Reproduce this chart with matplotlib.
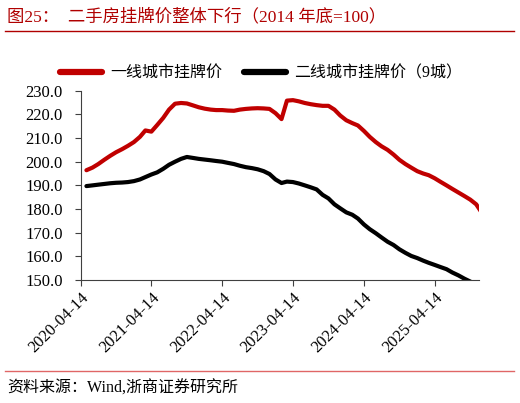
import matplotlib.pyplot as plt
import pandas as pd

plt.rcParams['font.family'] = ['Liberation Serif', 'Noto Sans CJK SC']

# monthly readings, 2020-04 .. 2025-11
dates = pd.date_range("2020-04-14", periods=68, freq="MS") + pd.Timedelta(days=13)

tier1 = [196.4, 197.5, 199.0, 200.8, 202.5, 204.0, 205.3, 206.7, 208.3, 210.5,
         213.2, 212.7, 215.5, 218.5, 222.0, 224.5, 224.8, 224.6, 223.8, 223.0,
         222.4, 222.0, 221.8, 221.8, 221.6, 221.5, 222.0, 222.3, 222.5, 222.6,
         222.5, 222.3, 220.5, 218.0, 225.8, 226.0, 225.5, 224.8, 224.3, 223.9,
         223.6, 223.6, 222.0, 219.5, 217.5, 216.3, 215.3, 213.0, 210.5, 208.3,
         206.5, 205.0, 203.0, 200.8, 199.0, 197.5, 196.0, 195.0, 194.3, 193.0,
         191.5, 190.0, 188.5, 187.0, 185.5, 184.0, 182.0, 178.3]

tier2 = [189.7, 190.0, 190.3, 190.6, 190.9, 191.1, 191.2, 191.4, 191.8, 192.5,
         193.5, 194.6, 195.5, 197.0, 198.7, 200.0, 201.2, 202.0, 201.6, 201.2,
         200.9, 200.6, 200.3, 200.0, 199.5, 199.0, 198.3, 197.7, 197.3, 196.8,
         196.0, 194.8, 192.5, 191.0, 191.6, 191.4, 190.8, 190.0, 189.2, 188.3,
         186.0, 184.5, 182.0, 180.3, 178.6, 177.6, 176.0, 173.5, 171.5, 169.8,
         168.0, 166.2, 164.8, 163.0, 161.5, 160.2, 159.3, 158.2, 157.3, 156.4,
         155.5, 154.6, 153.2, 152.0, 150.6, 149.4, 148.2, 147.0]

tick_labels = ["2020-04-14", "2021-04-14", "2022-04-14",
               "2023-04-14", "2024-04-14", "2025-04-14"]

fig = plt.figure(figsize=(5.2, 4.03), dpi=100)
ax = fig.add_axes([0.155, 0.305, 0.766, 0.47])

ax.plot(dates, tier1, color="#C00000", lw=3, label="一线城市挂牌价", solid_capstyle="round")
ax.plot(dates, tier2, color="black", lw=3, label="二线城市挂牌价（9城）", solid_capstyle="round")

ax.set_ylim(150, 230)
ax.set_yticks(range(150, 231, 10))
ax.set_yticklabels([f"{v:.1f}" for v in range(150, 231, 10)], fontsize=12)
ax.set_xlim(pd.Timestamp("2020-04-14"), pd.Timestamp("2025-11-28"))
ax.set_xticks([pd.Timestamp(t) for t in tick_labels])
ax.set_xticklabels(tick_labels, rotation=45, ha="right", rotation_mode="anchor", fontsize=12)

for s in ["top", "right"]:
    ax.spines[s].set_visible(False)
for s in ["left", "bottom"]:
    ax.spines[s].set_color("#404040")
ax.tick_params(axis="both", direction="out", length=4, color="#404040", pad=3)
ax.tick_params(axis="y", pad=9)

ax.legend(loc="lower left", bbox_to_anchor=(-0.075, 1.0), ncol=2, frameon=False,
          fontsize=11.5, handlelength=2.6, columnspacing=1.4, borderaxespad=0.2,
          handletextpad=0.5)
for line in ax.get_legend().get_lines():
    line.set_linewidth(4.5)

fig.text(0.013, 0.958, "图25：  二手房挂牌价整体下行（2014 年底=100）",
         color="#B00000", fontsize=12.5, ha="left", va="center")
fig.add_artist(plt.Line2D([0.01, 0.988], [0.923, 0.923], color="#B00000", lw=1))
fig.add_artist(plt.Line2D([0.01, 0.988], [0.08, 0.08], color="#E06666", lw=1))
fig.text(0.013, 0.035, "资料来源：Wind,浙商证券研究所", color="black",
         fontsize=11.5, ha="left", va="center")

fig.savefig("out.png", dpi=100)
